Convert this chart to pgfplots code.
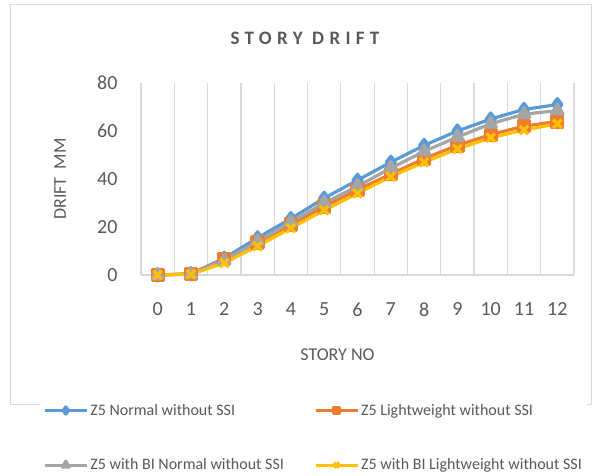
\documentclass[border=0pt]{standalone}
\usepackage{pgfplots}
\pgfplotsset{compat=1.18}
\usepackage{fontspec}
\setmainfont{Carlito}
\newfontfamily\titlefont[LetterSpace=28]{Carlito}
\definecolor{cblue}{HTML}{5B9BD5}
\definecolor{corange}{HTML}{ED7D31}
\definecolor{cgray}{HTML}{A5A5A5}
\definecolor{cyellow}{HTML}{FFC000}
\definecolor{txt}{HTML}{595959}
\definecolor{gridc}{HTML}{D9D9D9}
\begin{document}
\begin{tikzpicture}[x=1pt,y=1pt]
\path (0,0) rectangle (592,476);
\draw[gridc, line width=1pt] (10,71) rectangle (591,471);
\node[txt] at (305,438) {\fontsize{19}{22}\selectfont\titlefont\bfseries STORY DRIFT};
\begin{axis}[
    at={(141pt,201pt)}, anchor=south west,
    scale only axis, width=433pt, height=192pt,
    xmin=-0.5, xmax=12.5, ymin=0, ymax=80,
    xtick={0,...,12}, ytick={0,20,...,80},
    minor xtick={-0.5,0.5,...,12.5},
    xminorgrids, minor grid style={gridc, line width=1.2pt},
    axis x line*=bottom, axis y line*=left,
    x axis line style={gridc, line width=1.2pt, -},
    y axis line style={draw=none},
    major tick length=0, minor tick length=0,
    tick label style={font=\fontsize{20}{24}\selectfont, text=txt},
    /pgf/number format/assume math mode=true,
    yticklabel style={xshift=-20pt},
    xticklabel style={yshift=-24pt},
    xlabel={STORY NO}, ylabel={DRIFT\ \ MM},
    label style={font=\fontsize{18}{22}\selectfont, text=txt},
    xlabel style={at={(axis description cs:0.5,0)}, anchor=center, yshift=-80pt, xshift=-20pt},
    every axis y label/.style={at={(axis description cs:-0.187,0.5)}, anchor=center, rotate=90,
        font=\fontsize{18}{22}\selectfont, text=txt},
    clip=false,
    every axis plot/.append style={line width=3.2pt, line join=round, mark options={solid}},
    legend columns=2,
    legend image code/.code={\draw[mark repeat=2, mark phase=2, mark options={scale=0.6}, #1] plot coordinates {(0pt,0pt) (21pt,0pt) (42pt,0pt)};},
    legend style={at={(axis description cs:-0.2333,-0.651)}, anchor=north west, draw=none,
        font=\fontsize{16}{19}\selectfont, text=txt, row sep=38pt,
        /tikz/every even column/.append style={column sep=28pt}},
    legend cell align=left,
]
\addplot[cblue, mark=diamond*, mark size=6pt] coordinates {
(0,0) (1,0.5) (2,7) (3,15.5) (4,23.5) (5,32) (6,39.5) (7,47) (8,54) (9,60) (10,65) (11,69) (12,71)};
\addplot[corange, mark=square*, mark size=5.5pt] coordinates {
(0,0) (1,0.4) (2,6.5) (3,13.5) (4,21) (5,28.5) (6,35.5) (7,42) (8,48.5) (9,54) (10,58.5) (11,62) (12,64)};
\addplot[cgray, mark=triangle*, mark size=6.5pt] coordinates {
(0,0) (1,0.4) (2,6) (3,14) (4,22) (5,30) (6,37) (7,44.5) (8,51.5) (9,57.5) (10,63) (11,67) (12,68.5)};
\addplot[cyellow, mark=x, mark size=6pt] coordinates {
(0,0) (1,0.3) (2,5) (3,12) (4,19.5) (5,27) (6,34) (7,41) (8,47) (9,52.5) (10,57.2) (11,60.4) (12,63)};
\legend{Z5 Normal without SSI, Z5 Lightweight without SSI, Z5 with BI Normal without SSI, Z5 with BI Lightweight without SSI}
\end{axis}
\end{tikzpicture}
\end{document}
